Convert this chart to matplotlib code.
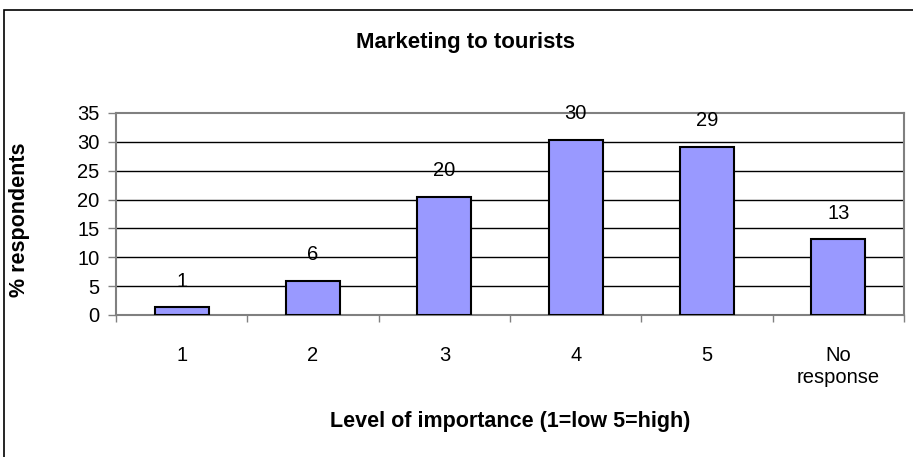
import matplotlib
matplotlib.use("Agg")
import matplotlib.pyplot as plt
from matplotlib.patches import Rectangle

categories = ["1", "2", "3", "4", "5", "No\nresponse"]
values = [1.3, 5.9, 20.4, 30.4, 29.1, 13.1]
labels = ["1", "6", "20", "30", "29", "13"]
yticks = [0, 5, 10, 15, 20, 25, 30, 35]

plt.rcParams['font.family'] = ['Liberation Sans', 'DejaVu Sans']

W, H = 913, 457
fig = plt.figure(figsize=(W / 100, H / 100), dpi=100)
fig.patch.set_facecolor('white')

# outer chart border
fig.patches.append(Rectangle((4 / W, -0.1), 1.2, 1 - 10 / H + 0.1, transform=fig.transFigure,
                             fill=False, edgecolor='black', lw=1.2, clip_on=False))

ax = fig.add_axes([116 / W, 142 / H, (904 - 116) / W, (315 - 113) / H])
x = [i + 0.5 for i in range(len(categories))]
ax.bar(x, values, width=0.41, color='#9999FF', edgecolor='black', linewidth=1.5, zorder=3)

for xi, v, lab in zip(x, values, labels):
    ax.annotate(lab, (xi, v), xytext=(0, 19), textcoords='offset points',
                ha='center', va='center', fontsize=14.5, zorder=4)

ax.set_xlim(0, 6)
ax.set_ylim(0, 35)
ax.set_yticks(yticks)
for g in yticks[1:-1]:
    ax.axhline(g, color='black', lw=1, zorder=1)

ax.set_xticks(range(0, 7))
ax.set_xticklabels([])
ax.set_xticks(x, minor=True)
ax.set_xticklabels(categories, minor=True, fontsize=14.5, linespacing=1.25)
ax.tick_params(axis='x', which='major', direction='out', length=5, width=1, color='#808080')
ax.tick_params(axis='x', which='minor', length=0, pad=22)
ax.tick_params(axis='y', direction='out', length=6, width=1, color='#808080', labelsize=14.5, pad=6)

for s in ax.spines.values():
    s.set_color('#808080')
    s.set_linewidth(1.5)

fig.text(465 / W, 1 - 48 / H, "Marketing to tourists", ha='center', va='baseline',
         fontsize=16, fontweight='bold')
fig.text(19 / W, 1 - 220 / H, "% respondents", rotation=90, ha='center', va='center',
         fontsize=15.5, fontweight='bold')
fig.text(510 / W, 1 - 427 / H, "Level of importance (1=low 5=high)", ha='center', va='baseline',
         fontsize=15.5, fontweight='bold')

fig.savefig("out.png", dpi=100, facecolor='white')
